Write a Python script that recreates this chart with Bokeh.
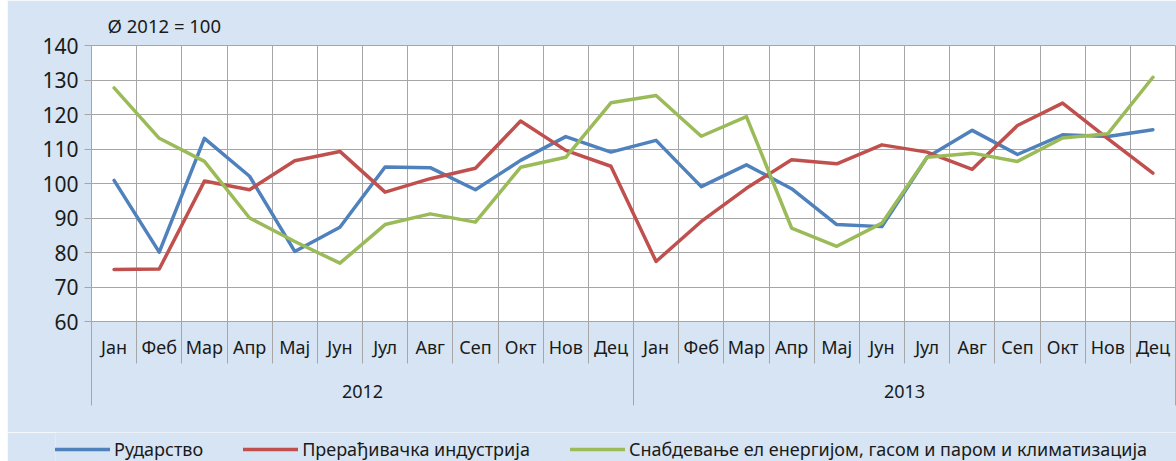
from bokeh.plotting import figure
from bokeh.models import Range1d, FixedTicker, LinearAxis, Legend, LegendItem, Grid, Spacer
from bokeh.layouts import column, row
from bokeh.embed import file_html
from bokeh.resources import INLINE

# ---- data ----
years = ["2012", "2013"]
months = ["Јан", "Феб", "Мар", "Апр", "Мај", "Јун", "Јул", "Авг", "Сеп", "Окт", "Нов", "Дец"]
series_names = ["Рударство", "Прерађивачка индустрија",
                "Снабдевање ел енергијом, гасом и паром и климатизација"]
mining = [100.9, 80.1, 113.1, 102.1, 80.3, 87.3, 104.8, 104.6, 98.2, 106.7, 113.6, 109.1,
          112.5, 99.1, 105.4, 98.5, 88.1, 87.5, 107.6, 115.4, 108.4, 114.1, 113.6, 115.6]
manufacturing = [75.1, 75.2, 100.7, 98.2, 106.6, 109.3, 97.5, 101.4, 104.4, 118.1, 109.6, 105.0,
                 77.4, 89.0, 98.6, 106.9, 105.7, 111.2, 109.1, 104.1, 116.8, 123.3, 113.0, 103.0]
energy = [127.7, 113.1, 106.4, 90.0, 83.2, 76.9, 88.1, 91.2, 88.8, 104.7, 107.6, 123.4,
          125.5, 113.7, 119.4, 87.1, 81.8, 88.5, 107.6, 108.8, 106.4, 113.2, 114.4, 130.8]
y_ticks = [60, 70, 80, 90, 100, 110, 120, 130, 140]
note = "Ø 2012 = 100"

# ---- style ----
BG = "#D6E4F3"
GRID = "#A6A6A6"
TXT = "#1A1A1A"
FONT = "Noto Sans"
COLORS = ["#4F81BD", "#C0504D", "#9BBB59"]
LW = 3.5
W = 1169

n = len(years) * len(months)
xs = [i + 0.5 for i in range(n)]
all_series = [mining, manufacturing, energy]

# ---- main chart ----
p = figure(width=W, height=432, output_backend="svg", toolbar_location=None,
           x_range=Range1d(0, n), y_range=Range1d(y_ticks[0], y_ticks[-1]),
           x_axis_type=None, y_axis_type=None,
           min_border_left=84, min_border_right=1, min_border_top=45, min_border_bottom=111,
           background_fill_color="white", border_fill_color=BG,
           outline_line_color=GRID, title=note)

p.title.align = "left"
p.title.offset = 16
p.title.standoff = 15
p.title.text_font = FONT
p.title.text_font_size = "18.5px"
p.title.text_font_style = "normal"
p.title.text_color = TXT

p.add_layout(Grid(dimension=0, ticker=FixedTicker(ticks=list(range(n + 1))),
                  grid_line_color=GRID, grid_line_width=1))
p.add_layout(Grid(dimension=1, ticker=FixedTicker(ticks=y_ticks),
                  grid_line_color=GRID, grid_line_width=1))

yaxis = LinearAxis(ticker=FixedTicker(ticks=y_ticks, minor_ticks=[]),
                   axis_line_color=GRID, major_tick_line_color=GRID,
                   major_tick_out=7, major_tick_in=0, major_label_standoff=6,
                   major_label_text_font=FONT, major_label_text_font_size="21px",
                   major_label_text_color=TXT)
p.add_layout(yaxis, "left")

month_labels = {x: months[i % len(months)] for i, x in enumerate(xs)}
maxis = LinearAxis(ticker=FixedTicker(ticks=xs, minor_ticks=list(range(n + 1))),
                   major_label_overrides=month_labels,
                   axis_line_color=GRID, major_tick_line_color=None,
                   major_tick_out=0, major_tick_in=0,
                   minor_tick_line_color=GRID, minor_tick_out=42, minor_tick_in=0,
                   major_label_standoff=-29,
                   major_label_text_font=FONT, major_label_text_font_size="18px",
                   major_label_text_color=TXT)
p.add_layout(maxis, "below")

yr_pos = [len(months) * (k + 0.5) for k in range(len(years))]
yr_bounds = [len(months) * k for k in range(len(years) + 1)]
yraxis = LinearAxis(ticker=FixedTicker(ticks=yr_pos, minor_ticks=yr_bounds),
                    major_label_overrides={x: y for x, y in zip(yr_pos, years)},
                    axis_line_color=None, major_tick_line_color=None,
                    major_tick_out=0, major_tick_in=0,
                    minor_tick_line_color=GRID, minor_tick_out=44, minor_tick_in=0,
                    major_label_standoff=-21,
                    major_label_text_font=FONT, major_label_text_font_size="18px",
                    major_label_text_color=TXT)
p.add_layout(yraxis, "below")

for vals, col in zip(all_series, COLORS):
    p.line(xs, vals, line_color=col, line_width=LW, line_join="round", line_cap="round")

# ---- legend strip ----
q = figure(width=W, height=29, output_backend="svg", toolbar_location=None,
           x_range=Range1d(0, n), y_range=Range1d(y_ticks[0], y_ticks[-1]),
           x_axis_type=None, y_axis_type=None,
           min_border_left=48, min_border_right=0, min_border_top=0, min_border_bottom=0,
           background_fill_color=BG, border_fill_color=BG, outline_line_color=None)

legend_spacing = 18
if "frame_align" in q.properties():
    q.frame_align = False
    p.frame_align = False
    legend_spacing = 40

items = []
for name, vals, col in zip(series_names, all_series, COLORS):
    r = q.line(xs, vals, line_color=col, line_width=LW, line_cap="round", visible=False)
    items.append(LegendItem(label=name, renderers=[r]))

legend = Legend(items=items, location="bottom_left", orientation="horizontal",
                glyph_width=55, glyph_height=20, label_height=20, label_standoff=4,
                spacing=legend_spacing, padding=0, margin=0, border_line_color=None,
                background_fill_alpha=0, inactive_fill_alpha=0,
                label_text_font=FONT, label_text_font_size="18px", label_text_color=TXT)
q.add_layout(legend)

layout = row(Spacer(width=7, height=461), column(p, q, spacing=0), spacing=0)
open("out.html", "w").write(file_html(layout, INLINE))
